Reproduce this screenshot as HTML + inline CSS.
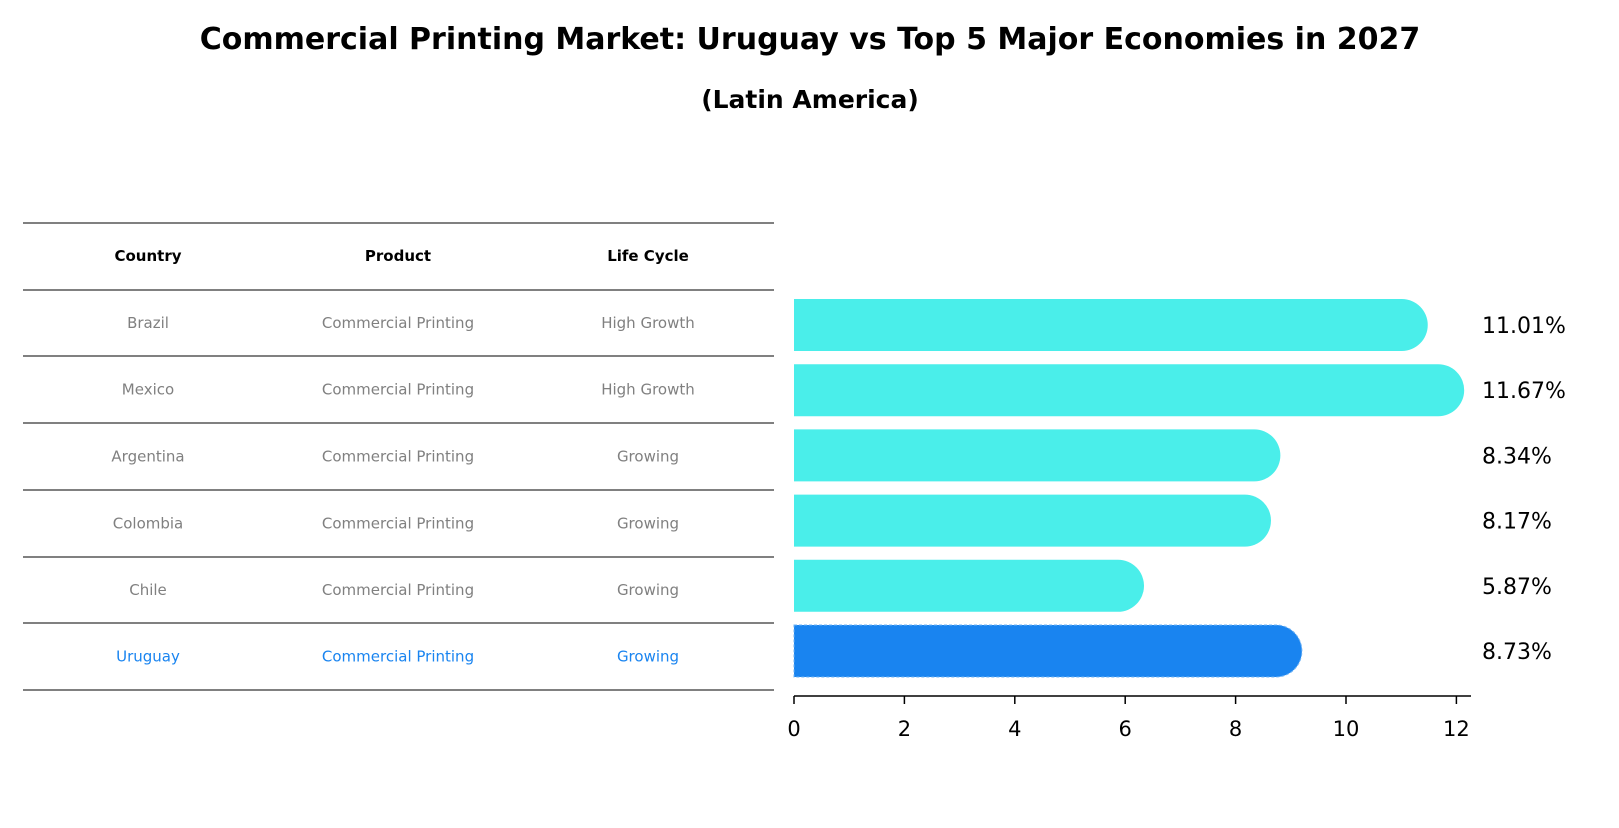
<!DOCTYPE html>
<html><head><meta charset="utf-8"><style>
body{margin:0;background:#fff;font-family:"Liberation Sans","DejaVu Sans",sans-serif;}
</style></head><body>
<svg width="1619" height="823" xmlns="http://www.w3.org/2000/svg" font-family="DejaVu Sans, Liberation Sans, sans-serif">
<text x="810" y="49" text-anchor="middle" font-size="30" font-weight="bold">Commercial Printing Market: Uruguay vs Top 5 Major Economies in 2027</text>
<text x="810" y="108" text-anchor="middle" font-size="25" font-weight="bold">(Latin America)</text>
<g id="table"></g>
<g id="bars"></g>
</svg>
<script>
const countries=["Brazil","Mexico","Argentina","Colombia","Chile","Uruguay"];
const products=["Commercial Printing","Commercial Printing","Commercial Printing","Commercial Printing","Commercial Printing","Commercial Printing"];
const lifeCycles=["High Growth","High Growth","Growing","Growing","Growing","Growing"];
const values=[11.01,11.67,8.34,8.17,5.87,8.73];
const ticks=[0,2,4,6,8,10,12];
const NS="http://www.w3.org/2000/svg";
function mk(t,a,p){const e=document.createElementNS(NS,t);for(const k in a)e.setAttribute(k,a[k]);p.appendChild(e);return e;}
const tb=document.getElementById('table');
const lineYs=[223,290,356,423,490,557,623,690];
lineYs.forEach(y=>{const l=mk('line',{x1:23,x2:774,y1:y,y2:y,stroke:'#000','stroke-width':1},tb);

});
const colX=[148,398,648];
["Country","Product","Life Cycle"].forEach((h,i)=>{const t=mk('text',{x:colX[i],y:261,'text-anchor':'middle','font-size':15,'font-weight':'bold'},tb);t.textContent=h;

});
countries.forEach((c,r)=>{const y=(lineYs[r+1]+lineYs[r+2])/2+5;const col=c==="Uruguay"?'#1984f0':'#808080';
[c,products[r],lifeCycles[r]].forEach((v,i)=>{const t=mk('text',{x:colX[i],y:y,'text-anchor':'middle','font-size':15,fill:col},tb);t.textContent=v;

});});
const g=document.getElementById('bars');
const x0=794,pxu=55.2;const xs=v=>x0+v*pxu;
const yc=i=>325+i*65.2;const bh=52,rad=26;
values.forEach((v,i)=>{const col=countries[i]==="Uruguay"?'#1984f0':'#4aeeea';
const xe=xs(v),top=yc(i)-bh/2;
const p=mk('path',{d:`M${x0},${top} H${xe} A${rad},${rad} 0 0 1 ${xe},${top+bh} H${x0} Z`,fill:col},g);
if(countries[i]==="Uruguay"){p.setAttribute('stroke','#6fb3f5');p.setAttribute('stroke-dasharray','3,2');p.setAttribute('stroke-width','1');}


const t=mk('text',{x:1482,y:yc(i)+8,'font-size':22},g);t.textContent=v.toFixed(2)+'%';

});
const ax=mk('line',{x1:x0,x2:1471,y1:696,y2:696,stroke:'#000','stroke-width':1.5},g);


ticks.forEach(tk=>{const l=mk('line',{x1:xs(tk),x2:xs(tk),y1:696,y2:704,stroke:'#000','stroke-width':1.5},g);


const t=mk('text',{x:xs(tk),y:736,'text-anchor':'middle','font-size':21},g);t.textContent=tk;

});
</script>
</body></html>
